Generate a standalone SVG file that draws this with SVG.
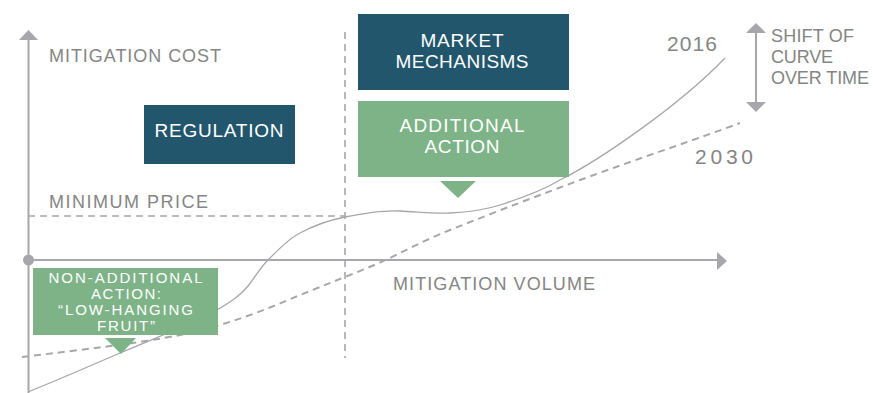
<svg xmlns="http://www.w3.org/2000/svg" width="873" height="393" viewBox="0 0 873 393">
<style>
.lbl{font-family:"Liberation Sans",Arial,sans-serif;fill:#858585}
.box{font-family:"Liberation Sans",Arial,sans-serif;fill:#ffffff;text-anchor:middle}
.dark{fill:#22566d}
.green{fill:#7db387}
.axis{stroke:#a7a7ab;stroke-width:2;fill:none}
.dash{stroke:#a7a7ab;stroke-width:1.6;fill:none;stroke-dasharray:7 5}
.gray{fill:#a7a7ab}
</style>
<rect width="873" height="393" fill="#ffffff"/>
<g id="connectors">
  <line class="dash" x1="345" y1="32" x2="345" y2="358"/>
  <line class="dash" x1="28" y1="216" x2="345" y2="216"/>
  <path d="M28,392 C60,379 90,366 120,353 C155,338 190,325 217,310 C230,302 240,296 248,286 C256,276 260,268 268,260 C280,248 290,238 300,233 C315,225 330,220 345,217 C365,213 385,210 400,211 C420,212 435,214 450,213 C470,212 485,210 500,205 C525,197 545,189 560,180 C600,160 680,105 725,58" fill="none" stroke="#a7a7ab" stroke-width="1.3"/>
  <path d="M22,357 C80,350 140,343 180,335 C225,326 265,310 300,295 C320,287 330,283 345,277 C360,271 375,265 390,258 C410,248 430,238 450,230 C500,210 540,195 580,180 C640,158 700,138 740,123" fill="none" stroke="#a7a7ab" stroke-width="2" stroke-dasharray="7 5"/>
</g>
<g id="y-axis">
  <line class="axis" x1="28.5" y1="38" x2="28.5" y2="393"/>
  <polygon class="gray" points="28.5,30 19,40 38,40"/>
  <circle class="gray" cx="28.5" cy="260" r="5.5"/>
  <text class="lbl" x="49" y="62" font-size="18" textLength="172" lengthAdjust="spacing">MITIGATION COST</text>
</g>
<g id="x-axis">
  <line class="axis" x1="28" y1="260" x2="719" y2="260"/>
  <polygon class="gray" points="727,261 717,252 717,270"/>
  <text class="lbl" x="393" y="290" font-size="18" textLength="202" lengthAdjust="spacing">MITIGATION VOLUME</text>
</g>
<g id="minimum-price">
  <text class="lbl" x="49" y="208" font-size="18" textLength="159" lengthAdjust="spacing">MINIMUM PRICE</text>
</g>
<g id="regulation">
  <rect class="dark" x="144" y="105" width="151" height="59"/>
  <text class="box" x="219" y="137" font-size="19" textLength="129" lengthAdjust="spacing">REGULATION</text>
</g>
<g id="market-mechanisms">
  <rect class="dark" x="358" y="14" width="211" height="76"/>
  <text class="box" x="462" y="47" font-size="19" textLength="83" lengthAdjust="spacing">MARKET</text>
  <text class="box" x="462" y="68" font-size="19" textLength="133" lengthAdjust="spacing">MECHANISMS</text>
</g>
<g id="additional-action">
  <rect class="green" x="358" y="101" width="211" height="76"/>
  <text class="box" x="462" y="132" font-size="19" textLength="125" lengthAdjust="spacing">ADDITIONAL</text>
  <text class="box" x="462" y="153" font-size="19" textLength="75" lengthAdjust="spacing">ACTION</text>
  <polygon class="green" points="440,181 476,181 458,198"/>
</g>
<g id="non-additional-action">
  <rect class="green" x="33" y="268" width="185" height="67"/>
  <text class="box" x="125.5" y="283" font-size="15" textLength="154" lengthAdjust="spacing">NON-ADDITIONAL</text>
  <text class="box" x="126" y="299" font-size="15" textLength="70" lengthAdjust="spacing">ACTION:</text>
  <text class="box" x="125.5" y="315" font-size="15" textLength="135" lengthAdjust="spacing">“LOW-HANGING</text>
  <text class="box" x="126" y="331" font-size="15" textLength="58" lengthAdjust="spacing">FRUIT”</text>
  <polygon class="green" points="105,338 136,338 121,354"/>
</g>
<g id="label-2016">
  <text class="lbl" x="667" y="51" font-size="21" fill="#7a7a7a" textLength="50" lengthAdjust="spacing">2016</text>
</g>
<g id="label-2030">
  <text class="lbl" x="695" y="164" font-size="21" textLength="58" lengthAdjust="spacing">2030</text>
</g>
<g id="shift-arrow">
  <line class="axis" x1="756" y1="31" x2="756" y2="104"/>
  <polygon class="gray" points="756,23 746,33 766,33"/>
  <polygon class="gray" points="756,112 746,102 766,102"/>
  <text class="lbl" x="771" y="42" font-size="18" textLength="83" lengthAdjust="spacing">SHIFT OF</text>
  <text class="lbl" x="771" y="63" font-size="18" textLength="62" lengthAdjust="spacing">CURVE</text>
  <text class="lbl" x="771" y="84" font-size="18" textLength="98" lengthAdjust="spacing">OVER TIME</text>
</g>
</svg>
